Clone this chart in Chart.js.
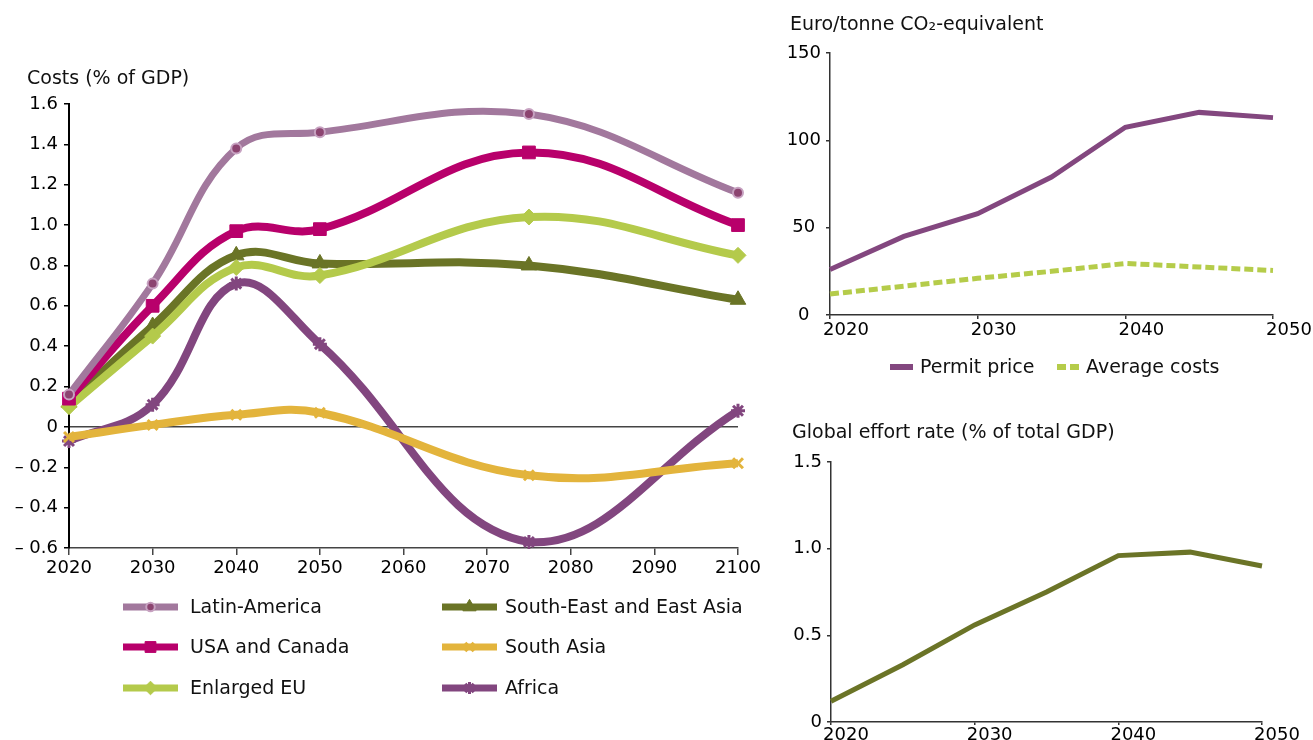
<!DOCTYPE html>
<html>
<head>
<meta charset="utf-8">
<script src="https://cdn.jsdelivr.net/npm/chart.js@4/dist/chart.umd.min.js"></script>
<style>
  html, body { margin: 0; padding: 0; background: #fff; overflow: hidden; }
  body { width: 1313px; height: 740px; position: relative; font-family: "DejaVu Sans", sans-serif; color: #111; }
  canvas { position: absolute; }
  .ttl { position: absolute; font-size: 19px; line-height: 22px; white-space: nowrap; }
</style>
</head>
<body>
<canvas id="regions" width="770" height="740" style="left:0;top:0"></canvas>
<canvas id="price" width="533" height="400" style="left:780px;top:0"></canvas>
<canvas id="effort" width="533" height="360" style="left:780px;top:400px"></canvas>
<div class="ttl" style="left:27px;top:66px">Costs (% of GDP)</div>
<div class="ttl" style="left:790px;top:12px">Euro/tonne CO₂-equivalent</div>
<div class="ttl" style="left:792px;top:420px">Global effort rate (% of total GDP)</div>
<script>
// regional costs, % of GDP
var years = [2020, 2030, 2040, 2050, 2075, 2100];
var latinAmerica = [0.16, 0.71, 1.38, 1.46, 1.55, 1.16];
var usaCanada = [0.14, 0.60, 0.97, 0.98, 1.36, 1.00];
var enlargedEU = [0.10, 0.45, 0.79, 0.75, 1.04, 0.85];
var seEastAsia = [0.12, 0.50, 0.85, 0.81, 0.80, 0.63];
var southAsia = [-0.05, 0.01, 0.06, 0.07, -0.24, -0.18];
var africa = [-0.07, 0.11, 0.71, 0.41, -0.57, 0.08];

// permit price and average costs, euro/tonne CO2-eq
var priceYears = [2020, 2025, 2030, 2035, 2040, 2045, 2050];
var permitPrice = [26, 45, 58, 79, 107.5, 116, 113];
var averageCosts = [12, 16.5, 21, 25, 29.5, 27.5, 25.5];

// global effort rate, % of total GDP
var effortYears = [2020, 2025, 2030, 2035, 2040, 2045, 2050];
var effortRate = [0.12, 0.33, 0.56, 0.75, 0.96, 0.98, 0.90];

Chart.defaults.font.family = '"DejaVu Sans", sans-serif';
Chart.defaults.font.size = 18;
Chart.defaults.color = '#111';

function pts(xs, ys) {
	return xs.map(function(x, i) { return {x: x, y: ys[i]}; });
}

function yearLabel(v) { return String(v); }

// legend drawn by hand so it can sit in columns like the original
function customLegend(items) {
	return {
		id: 'customLegend',
		afterDraw: function(chart) {
			var ctx = chart.ctx;
			items.forEach(function(it) {
				var ds = chart.data.datasets[it.index];
				ctx.save();
				ctx.strokeStyle = ds.borderColor;
				ctx.lineWidth = it.lineWidth;
				ctx.setLineDash(ds.borderDash || []);
				ctx.beginPath();
				ctx.moveTo(it.x, it.y);
				ctx.lineTo(it.x + it.w, it.y);
				ctx.stroke();
				ctx.setLineDash([]);
				if (ds.pointRadius > 0) {
					ctx.fillStyle = ds.pointBackgroundColor;
					ctx.strokeStyle = ds.pointBorderColor;
					ctx.lineWidth = ds.pointBorderWidth;
					Chart.helpers.drawPoint(ctx, {
						pointStyle: ds.pointStyle,
						radius: ds.pointRadius * 0.85,
						borderWidth: ds.pointBorderWidth,
						rotation: 0
					}, it.x + it.w / 2, it.y);
				}
				ctx.fillStyle = '#111';
				ctx.font = '19px "DejaVu Sans"';
				ctx.textBaseline = 'middle';
				ctx.fillText(ds.label, it.textX, it.y + 1);
				ctx.restore();
			});
		}
	};
}

function region(label, data, color, style, radius, extra) {
	var ds = {
		label: label,
		data: pts(years, data),
		borderColor: color,
		borderWidth: 8,
		tension: 0.4,
		clip: false,
		pointStyle: style,
		pointRadius: radius,
		pointBackgroundColor: color,
		pointBorderColor: color,
		pointBorderWidth: 1
	};
	for (var k in extra) ds[k] = extra[k];
	return ds;
}

// left chart
new Chart(document.getElementById('regions'), {
	type: 'line',
	data: {
		datasets: [
			region('Latin-America', latinAmerica, '#a2789d', 'circle', 5,
				{borderWidth: 7, pointBackgroundColor: '#8c4470', pointBorderColor: '#c7a2c1', pointBorderWidth: 2}),
			region('USA and Canada', usaCanada, '#b8006b', 'rect', 9, {}),
			region('Enlarged EU', enlargedEU, '#b4ca4b', 'rectRot', 8, {}),
			region('South-East and East Asia', seEastAsia, '#6a7426', 'triangle', 9, {}),
			region('South Asia', southAsia, '#e3b43c', 'crossRot', 7, {pointBorderWidth: 3}),
			region('Africa', africa, '#82467f', 'star', 7, {pointBorderWidth: 3})
		]
	},
	options: {
		responsive: false,
		animation: false,
		layout: {padding: {left: 0, top: 104, right: 32, bottom: 152}},
		plugins: {legend: {display: false}, tooltip: {enabled: false}},
		scales: {
			x: {
				type: 'linear', min: 2020, max: 2100,
				ticks: {stepSize: 10, color: '#000', padding: 3, callback: yearLabel},
				grid: {drawOnChartArea: false, tickLength: 7, color: '#444', lineWidth: 1.5},
				border: {color: '#444', width: 1.5},
				afterFit: function(s) { s.height = 40; }
			},
			y: {
				min: -0.6, max: 1.6,
				ticks: {
					stepSize: 0.2, color: '#000', padding: 6,
					callback: function(v) {
						var r = Math.round(v * 10) / 10;
						if (r === 0) return '0';
						return r < 0 ? '\u2013 ' + Math.abs(r).toFixed(1) : r.toFixed(1);
					}
				},
				grid: {
					color: function(c) { return Math.abs(c.tick.value) < 1e-9 ? '#444' : 'rgba(0,0,0,0)'; },
					tickColor: '#000', tickLength: 5, lineWidth: 1.5
				},
				border: {color: '#000', width: 2},
				afterFit: function(s) { s.width = 69; }
			}
		}
	},
	plugins: [customLegend([
		{index: 0, x: 123, y: 607, w: 55, textX: 190, lineWidth: 7},
		{index: 1, x: 123, y: 647, w: 55, textX: 190, lineWidth: 7},
		{index: 2, x: 123, y: 688, w: 55, textX: 190, lineWidth: 7},
		{index: 3, x: 442, y: 607, w: 55, textX: 505, lineWidth: 7},
		{index: 4, x: 442, y: 647, w: 55, textX: 505, lineWidth: 7},
		{index: 5, x: 442, y: 688, w: 55, textX: 505, lineWidth: 7}
	])]
});

// top right chart
new Chart(document.getElementById('price'), {
	type: 'line',
	data: {
		datasets: [{
			label: 'Permit price',
			data: pts(priceYears, permitPrice),
			borderColor: '#83477f',
			borderWidth: 5,
			pointRadius: 0,
			tension: 0,
			clip: false
		}, {
			label: 'Average costs',
			data: pts(priceYears, averageCosts),
			borderColor: '#b5cc4a',
			borderWidth: 5,
			borderDash: [9, 4],
			pointRadius: 0,
			tension: 0,
			clip: false
		}]
	},
	options: {
		responsive: false,
		animation: false,
		layout: {padding: {left: 0, top: 53, right: 40, bottom: 55}},
		plugins: {legend: {display: false}, tooltip: {enabled: false}},
		scales: {
			x: {
				type: 'linear', min: 2020, max: 2050,
				ticks: {stepSize: 10, color: '#000', padding: 1, labelOffset: 16, callback: yearLabel},
				grid: {drawOnChartArea: false, tickLength: 4, color: '#333', lineWidth: 1.5},
				border: {color: '#333', width: 1.5},
				afterFit: function(s) { s.height = 30; }
			},
			y: {
				min: 0, max: 150,
				ticks: {stepSize: 50, color: '#000', padding: 5, crossAlign: 'center'},
				grid: {drawOnChartArea: false, tickLength: 4, color: '#333', lineWidth: 1.5},
				border: {color: '#333', width: 1.5},
				afterFit: function(s) { s.width = 50; }
			}
		}
	},
	plugins: [customLegend([
		{index: 0, x: 110, y: 367, w: 23, textX: 140, lineWidth: 6},
		{index: 1, x: 277, y: 367, w: 22, textX: 306, lineWidth: 6}
	])]
});

// bottom right chart
new Chart(document.getElementById('effort'), {
	type: 'line',
	data: {
		datasets: [{
			label: 'Global effort rate',
			data: pts(effortYears, effortRate),
			borderColor: '#6b7427',
			borderWidth: 5,
			pointRadius: 0,
			tension: 0,
			clip: false
		}]
	},
	options: {
		responsive: false,
		animation: false,
		layout: {padding: {left: 0, top: 62, right: 51, bottom: 8}},
		plugins: {legend: {display: false}, tooltip: {enabled: false}},
		scales: {
			x: {
				type: 'linear', min: 2020, max: 2050,
				ticks: {stepSize: 10, color: '#000', padding: 0, labelOffset: 15, callback: yearLabel},
				grid: {drawOnChartArea: false, tickLength: 3, color: '#333', lineWidth: 1.5},
				border: {color: '#333', width: 1.5},
				afterFit: function(s) { s.height = 30; }
			},
			y: {
				min: 0, max: 1.5,
				ticks: {
					stepSize: 0.5, color: '#000', padding: 5,
					callback: function(v) { return v === 0 ? '0' : v.toFixed(1); }
				},
				grid: {drawOnChartArea: false, tickLength: 4, color: '#333', lineWidth: 1.5},
				border: {color: '#333', width: 1.5},
				afterFit: function(s) { s.width = 51; }
			}
		}
	}
});
</script>
</body>
</html>
